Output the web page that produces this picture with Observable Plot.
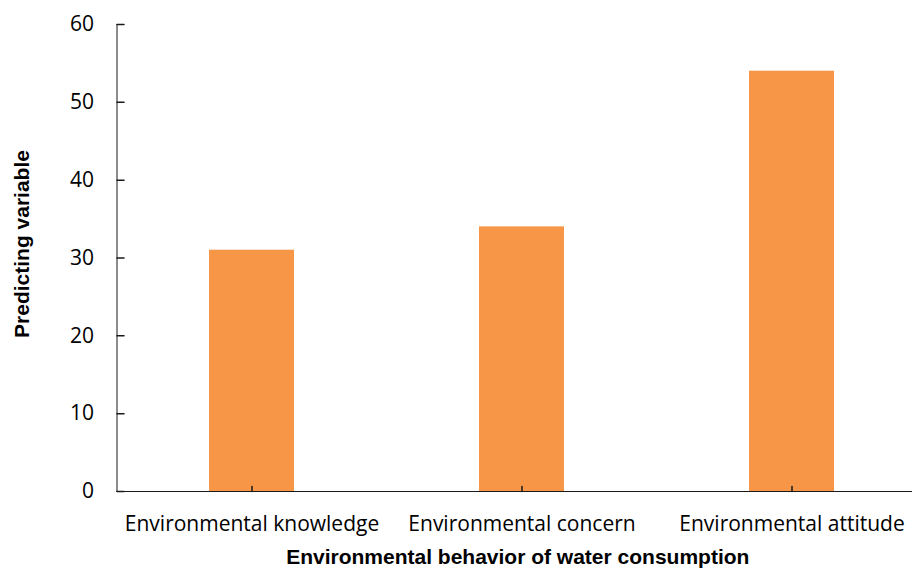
<!DOCTYPE html>
<html><head><meta charset="utf-8">
<script src="https://cdn.jsdelivr.net/npm/d3@7"></script>
<script src="https://cdn.jsdelivr.net/npm/@observablehq/plot@0.6"></script>
<style>html,body{margin:0;padding:0;background:#fff} svg{display:block}</style>
</head><body><div id="chart"></div>
<script>
const categories = ["Environmental knowledge", "Environmental concern", "Environmental attitude"];
const values = [31, 34, 54];
const yTicks = [0, 10, 20, 30, 40, 50, 60];
const xTitle = "Environmental behavior of water consumption";
const yTitle = "Predicting variable";

const data = categories.map((c, i) => ({category: c, value: values[i]}));
const tickShape = {draw(ctx, l) { ctx.moveTo(0, 0); ctx.lineTo(0, -l); }};
const axisColor = "#1a1a1a";
const titleFont = "'Liberation Sans', Arial, sans-serif";

const chart = Plot.plot({
  width: 912, height: 568,
  marginTop: 24, marginBottom: 77, marginLeft: 116.5, marginRight: 0,
  style: {fontFamily: "'Open Sans', sans-serif", fontSize: "21px", color: "#000", background: "#fff"},
  x: {domain: categories, range: [116.5, 926.5], paddingInner: 0.685, paddingOuter: 0.3425, label: null},
  y: {domain: [0, 60], label: null},
  marks: [
    Plot.barY(data, {x: "category", y: "value", fill: "#F79646"}),
    Plot.axisY(yTicks, {tickSize: 0, tickPadding: 23, label: null, fontSize: 21}),
    Plot.axisX({tickSize: 0, tickPadding: 25, label: null, fontSize: 21}),
    Plot.vector(yTicks, {y: d => d, frameAnchor: "left", rotate: 90, length: 7, anchor: "start", shape: tickShape, stroke: axisColor}),
    Plot.vector(categories, {x: d => d, frameAnchor: "bottom", rotate: 0, length: 5, anchor: "start", shape: tickShape, stroke: axisColor}),
    Plot.ruleY([0], {stroke: axisColor}),
    Plot.frame({anchor: "left", stroke: axisColor}),
    Plot.text([yTitle], {text: d => d, frameAnchor: "left", textAnchor: "middle", lineAnchor: "middle", rotate: -90, dx: -95, dy: -14, fontWeight: "bold", fontFamily: titleFont, fontSize: 21, fill: "#000"}),
    Plot.text([xTitle], {text: d => d, frameAnchor: "bottom", textAnchor: "middle", lineAnchor: "middle", dx: 3, dy: 66, fontWeight: "bold", fontFamily: titleFont, fontSize: 21, fill: "#000"})
  ]
});
document.getElementById("chart").append(chart);
</script>
</body></html>
